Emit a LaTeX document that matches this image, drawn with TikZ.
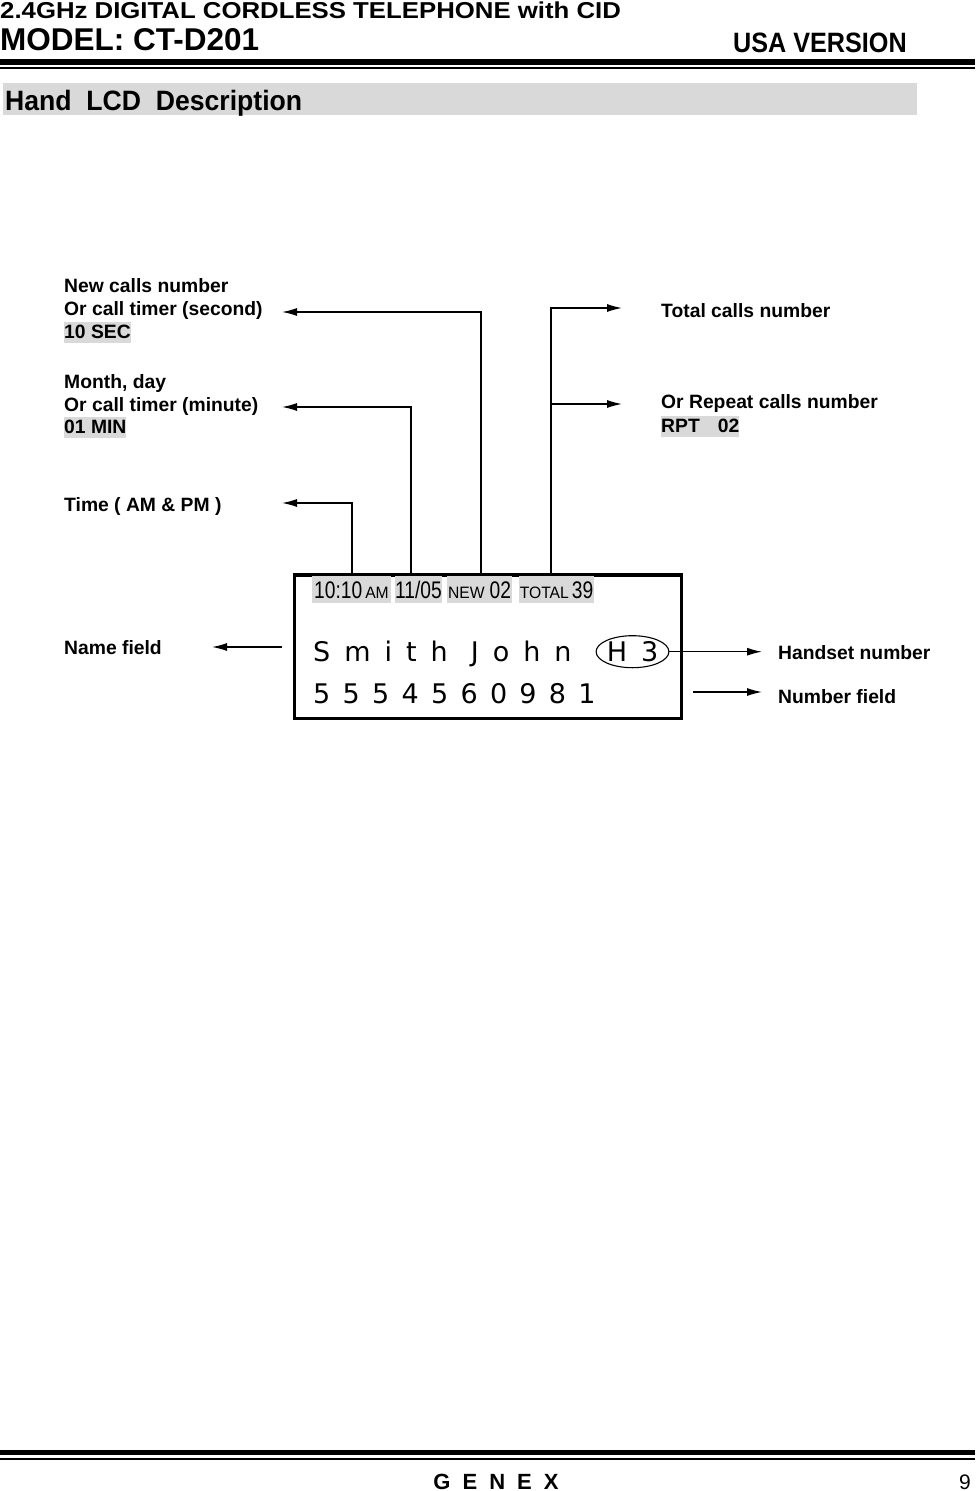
\documentclass[tikz,border=0pt]{standalone}
\usepackage{fontspec}
\usepackage{graphicx}
\setmainfont{Liberation Sans}
\newfontfamily\lcdface{DejaVu Sans}
\usetikzlibrary{arrows.meta,shapes.geometric}
\definecolor{hl}{HTML}{D9D9D9}
\newcommand\lcdbig[1]{\scalebox{0.8}[1]{\fontsize{24}{24}\selectfont #1}}
\newcommand\lcdsmall[1]{\scalebox{0.95}[1]{\fontsize{16.5}{16.5}\selectfont #1}}
\newcommand\lcdfont{\fontsize{27}{27}\lcdface\spaceskip=14pt\relax}
\newcommand\digfont{\fontsize{27}{27}\lcdface\spaceskip=12.3pt\relax}
\newcommand\gxfont{\fontsize{22}{22}\selectfont\bfseries\spaceskip=12pt\relax}
\begin{document}
\begin{tikzpicture}[x=1pt,y=-1pt,
  lbl/.style={anchor=base west, inner sep=0pt, font=\fontsize{19.3}{22}\selectfont\bfseries},
  hlbox/.style={lbl, fill=hl, text height=16pt, text depth=5pt},
  tb/.style={fill=hl, inner sep=0pt, text height=22pt, text depth=5pt, anchor=base},
  conn/.style={line width=1.3pt},
  arr/.style={conn, -{Latex[length=15pt,width=8pt]}}]
\useasboundingbox (0,0) rectangle (975,1491);
% header
\node[anchor=base west, inner sep=0pt, font=\fontsize{23}{23}\selectfont\bfseries] (t1) at (0,18) {\scalebox{1.12}[1]{2.4GHz DIGITAL CORDLESS TELEPHONE with CID}};
\node[anchor=base west, inner sep=0pt, font=\fontsize{31.5}{31.5}\selectfont\bfseries] (t2) at (0,50) {MODEL: CT-D201};
\node[anchor=base east, inner sep=0pt, font=\fontsize{28}{28}\selectfont\bfseries] (t3) at (907,52) {\scalebox{0.9}[1]{USA VERSION}};
\draw[line width=6pt] (0,62) -- (975,62);
\draw[line width=2pt] (0,68.3) -- (975,68.3);
\fill[hl] (3,83) rectangle (917,115);
\node[anchor=base west, inner sep=0pt, font=\fontsize{28}{28}\selectfont\bfseries] (sec) at (5,110) {\scalebox{0.95}[1]{Hand\ \ LCD\ \ Description}};
% footer
\draw[line width=5pt] (0,1452) -- (975,1452);
\draw[line width=1.5pt] (0,1459) -- (975,1459);
\node[anchor=base, inner sep=0pt, font=\gxfont] (genex) at (496,1489) {G E N E X};
\node[anchor=base east, inner sep=0pt, font=\fontsize{21}{21}\selectfont] (pg) at (971,1489) {9};
% left labels
\node[lbl] (newa) at (64,292) {New calls number};
\node[lbl] (newb) at (64,315) {Or call timer (second)};
\node[hlbox] (newc) at (64,338) {10 SEC};
\node[lbl] (mona) at (64,388) {Month, day};
\node[lbl] (monb) at (64,411) {Or call timer (minute)};
\node[hlbox] (monc) at (64,433) {01 MIN};
\node[lbl] (time) at (64,511) {Time ( AM \& PM )};
\node[lbl] (name) at (64,654) {Name field};
% right labels
\node[lbl] (tot) at (661,317) {Total calls number};
\node[lbl] (rpta) at (661,408) {Or Repeat calls number};
\node[hlbox] (rptb) at (661,432) {RPT\hspace{18pt}02\hspace{4pt}};
\node[lbl] (hand) at (778,659) {Handset number};
\node[lbl] (numf) at (778,703) {Number field};
% LCD
\node[draw, line width=3.3pt, outer sep=0pt, inner sep=0pt, minimum width=387.4pt, minimum height=143.3pt] (lcd) at (488,646.7) {};
\node[tb, minimum width=79pt] (b1) at (351.5,598) {\lcdbig{10:10}\hspace{3pt}\lcdsmall{AM}};
\node[tb, minimum width=47pt] (b2) at (418.5,598) {\lcdbig{11/05}};
\node[tb, minimum width=65pt] (b3) at (479.5,598) {\lcdsmall{NEW}\hspace{5pt}\lcdbig{02}};
\node[tb, minimum width=75pt] (b4) at (556.5,598) {\lcdsmall{TOTAL}\hspace{3pt}\lcdbig{39}};
\node[anchor=base west, inner sep=0pt, font=\lcdfont] (nm) at (313,661.7) {S m i t h\hspace{9pt} J o h n};
\node[anchor=base west, inner sep=0pt, font=\digfont] (num) at (313,703) {5 5 5 4 5 6 0 9 8 1};
\node[draw, ellipse, line width=1.1pt, inner sep=0pt, minimum width=69pt, minimum height=32pt, text height=20pt, text depth=0pt, font=\lcdfont] (h3) at (632.5,651.7) {H 3};
% connectors
\coordinate (aTime) at (282,503);
\coordinate (aMonth) at (282,407);
\coordinate (aNew) at (282,312);
\coordinate (aTotal) at (622,308);
\coordinate (jRpt) at (551,404);
\coordinate (aRpt) at (622,404);
\coordinate (nStart) at (282,647);
\coordinate (nTip) at (212,647);
\coordinate (aHand) at (762,652);
\coordinate (fStart) at (693,692);
\coordinate (aNum) at (762,692);
\draw[arr] (352,0 |- lcd.north) |- (aTime);
\draw[arr] (411,0 |- lcd.north) |- (aMonth);
\draw[arr] (481,0 |- lcd.north) |- (aNew);
\draw[arr] (551,0 |- lcd.north) |- (aTotal);
\draw[arr] (jRpt) -- (aRpt);
\draw[arr] (nStart) -- (nTip);
\draw[arr] (h3.east) -- (h3.east -| aHand);
\draw[arr] (fStart) -- (aNum);
\end{tikzpicture}
\end{document}
